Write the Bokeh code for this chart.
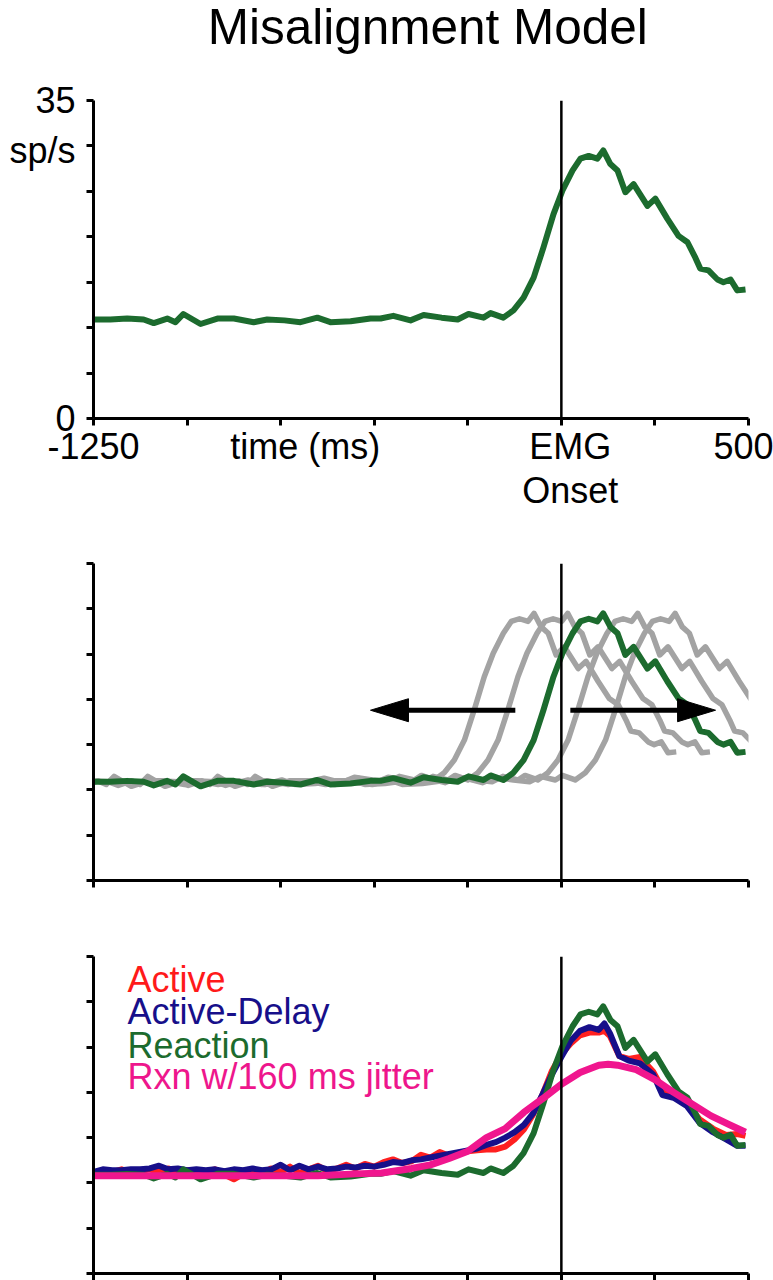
from bokeh.plotting import figure
from bokeh.layouts import column
from bokeh.models import Range1d, FixedTicker, Span, Label, LinearAxis
from bokeh.embed import file_html
from bokeh.resources import INLINE

FONT = "Liberation Sans"

# ---------------- data ----------------
x_ticks = [-1250, -1000, -750, -500, -250, 0, 250, 500]
y_ticks = [0, 5, 10, 15, 20, 25, 30, 35]

title_text = "Misalignment Model"
title_x = -945
# y labels of the top panel (value position -> text)
y_label_pos = [0, 29.5, 35]
y_label_text = ["0", "sp/s", "35"]
# x labels of the top panel, first line and second line
x_label_pos = [-1250, -684, 24, 487]
x_label_text = ["-1250", "time (ms)", "EMG", "500"]
x_label2_pos = [24]
x_label2_text = ["Onset"]

# Reaction (green) trace
reaction_t = [-1250, -1205, -1160, -1116, -1089, -1053, -1031, -1010, -964, -919,
              -875, -822, -786, -740, -697, -652, -617, -563, -510, -483,
              -449, -403, -368, -320, -277, -248, -208, -189, -155, -128,
              -101, -74, -48, -21, 3, 30, 51, 73, 96, 112,
              131, 150, 171, 193, 230, 251, 283, 313, 337, 358,
              371, 393, 417, 433, 452, 470, 492]
reaction_v = [10.9, 10.9, 11.0, 10.9, 10.5, 11.0, 10.6, 11.5, 10.4, 11.0,
              11.0, 10.6, 10.9, 10.8, 10.6, 11.1, 10.6, 10.7, 11.0, 11.0,
              11.3, 10.8, 11.4, 11.1, 10.9, 11.5, 11.1, 11.6, 11.1, 11.9,
              13.3, 15.5, 18.8, 22.5, 25.1, 27.3, 28.6, 28.9, 28.6, 29.5,
              28.0, 27.3, 24.9, 25.8, 23.4, 24.2, 22.0, 20.1, 19.4, 17.7,
              16.5, 16.3, 15.3, 15.0, 15.3, 14.1, 14.2]

# shifted (misaligned) copies in panel 2, ms
misalign_shifts = [-185, -95, 92, 192]

# arrows in panel 2
arrow_y = 18.8
arrow_starts = [-123, 24]
arrow_tips = [-510, 412]

# Active / Active-Delay traces (panel 3)
act_t = [-1250, -1225, -1200, -1175, -1150, -1125, -1100, -1075, -1050, -1025,
         -1000, -975, -950, -925, -900, -875, -850, -825, -800, -775,
         -750, -725, -700, -675, -650, -625, -600, -575, -550, -525,
         -500, -475, -450, -425, -400, -375, -350, -325, -300, -275,
         -250, -225, -200, -175, -150, -125, -100, -75, -50, -25,
         0, 25, 50, 75, 100, 115, 130, 155, 180, 210,
         245, 270, 300, 335, 370, 405, 440, 470, 492]
active_v = [11.0, 11.4, 11.2, 11.5, 11.1, 11.3, 11.5, 11.2, 11.6, 11.0,
            11.4, 11.1, 11.3, 11.5, 10.9, 10.4, 11.0, 11.3, 11.0, 11.6,
            11.2, 11.8, 11.1, 11.5, 11.9, 11.3, 11.6, 12.0, 11.6, 12.1,
            11.8, 12.3, 12.6, 12.2, 12.4, 13.1, 12.8, 13.4, 13.0, 13.3,
            13.5, 13.6, 13.7, 13.7, 14.0, 14.8, 15.9, 17.6, 19.8, 22.4,
            24.2, 25.4, 26.3, 26.6, 26.6, 26.8, 26.2, 24.0, 23.7, 23.9,
            22.3, 20.4, 19.8, 18.8, 17.0, 16.0, 15.3, 15.4, 15.2]
active_delay_v = [11.2, 11.5, 11.4, 11.4, 11.5, 11.5, 11.6, 11.9, 11.5, 11.6,
                  11.4, 11.5, 11.4, 11.5, 11.3, 11.5, 11.4, 11.6, 11.4, 11.5,
                  12.0, 11.4, 11.9, 11.5, 11.8, 11.5, 11.6, 11.8, 11.7, 11.9,
                  11.8, 12.0, 12.3, 12.2, 12.5, 12.6, 12.8, 13.0, 13.2, 13.4,
                  13.6, 13.8, 14.2, 14.5, 15.0, 15.6, 16.4, 17.7, 19.8, 22.0,
                  23.9, 25.7, 26.8, 27.2, 26.9, 27.6, 26.5, 24.0, 23.5, 23.2,
                  22.0, 19.7, 19.4, 18.5, 16.6, 15.6, 14.8, 14.1, 14.1]

# Reaction with 160 ms jitter (pink)
jitter_t = [-1250, -1000, -800, -650, -550, -480, -400, -350, -300, -250,
            -200, -150, -100, -50, 0, 50, 100, 125, 150, 200,
            250, 300, 350, 400, 450, 492]
jitter_v = [10.8, 10.8, 10.8, 10.8, 11.0, 11.1, 11.6, 12.0, 12.7, 13.5,
            15.0, 16.0, 17.8, 19.3, 20.9, 22.2, 23.0, 23.1, 23.0, 22.5,
            21.4, 20.0, 18.7, 17.4, 16.4, 15.6]

legend_names = ["Active", "Active-Delay", "Reaction", "Rxn w/160 ms jitter"]
legend_colors = ["#ff1a1a", "#170f8a", "#1c6b2e", "#ee168c"]
legend_x = -1159
legend_y = [32.5, 28.9, 25.2, 21.7]

GREEN = "#1c6b2e"
GRAY = "#a3a3a3"
RED = "#ff2020"
NAVY = "#170f8a"
PINK = "#f0168e"

FRAME_W = 655
X0, X1 = -1250, 500
Y0, Y1 = 0, 35
TITLE_H = 60


def style_axis(ax):
    ax.axis_line_width = 3
    ax.axis_line_color = "black"
    ax.major_tick_line_width = 3
    ax.major_tick_line_color = "black"
    ax.major_tick_out = 7
    ax.major_tick_in = 0
    ax.minor_tick_line_color = None
    # tick marks only: labels are not drawn
    ax.major_label_text_color = None
    ax.major_label_text_font_size = "1px"
    ax.major_label_standoff = 0


def label_axis(ticks, texts, standoff):
    return LinearAxis(ticker=FixedTicker(ticks=ticks),
                      major_label_overrides=dict(zip(ticks, texts)),
                      axis_line_color=None, major_tick_line_color=None,
                      minor_tick_line_color=None, major_tick_out=0, major_tick_in=0,
                      major_label_standoff=standoff, major_label_text_font=FONT,
                      major_label_text_font_size="36px", major_label_text_color="black")


def make_fig(frame_h, top, bottom):
    p = figure(frame_width=FRAME_W, frame_height=frame_h,
               x_range=Range1d(X0, X1), y_range=Range1d(Y0, Y1),
               output_backend="svg", toolbar_location=None,
               min_border_left=93, min_border_right=25,
               min_border_top=top, min_border_bottom=bottom)
    p.outline_line_color = None
    p.grid.visible = False
    p.background_fill_color = "white"
    p.border_fill_color = "white"
    style_axis(p.xaxis[0])
    style_axis(p.yaxis[0])
    p.xaxis[0].ticker = FixedTicker(ticks=x_ticks)
    p.yaxis[0].ticker = FixedTicker(ticks=y_ticks)
    p.add_layout(Span(location=0, dimension="height", line_color="black", line_width=2.5))
    return p


# ---------------- title strip (same horizontal frame as the panels) ----------------
pt = figure(frame_width=FRAME_W, frame_height=TITLE_H, x_range=Range1d(X0, X1),
            y_range=Range1d(0, TITLE_H), x_axis_type=None, y_axis_type=None,
            output_backend="svg", toolbar_location=None,
            min_border_left=93, min_border_right=25, min_border_top=0, min_border_bottom=0)
pt.outline_line_color = None
pt.grid.visible = False
pt.add_layout(Label(x=title_x, y=34.1, text=title_text, text_font=FONT, text_font_size="49.5px",
                    text_align="left", text_baseline="alphabetic", text_color="black"))

# ---------------- panel 1 ----------------
p1 = make_fig(318, 100 - TITLE_H, 97)
p1.add_layout(label_axis(y_label_pos, y_label_text, 11), "left")
p1.add_layout(label_axis(x_label_pos, x_label_text, 0), "below")
p1.add_layout(label_axis(x_label2_pos, x_label2_text, 0), "below")
p1.line(reaction_t, reaction_v, line_color=GREEN, line_width=6, line_join="round")

# ---------------- panel 2 ----------------
p2 = make_fig(317, 48, 35)
for s in misalign_shifts:
    p2.line([t + s for t in reaction_t], reaction_v, line_color=GRAY, line_width=5.5,
            line_join="round")
p2.line(reaction_t, reaction_v, line_color=GREEN, line_width=6, line_join="round")

# arrows: shaft + head (head size given in pixels, converted to data units)
px_per_ms = FRAME_W / (X1 - X0)
px_per_unit = 317 / (Y1 - Y0)
head_len = 38 / px_per_ms
head_half = 11.5 / px_per_unit
head_xs, head_ys = [], []
for st, tip in zip(arrow_starts, arrow_tips):
    d = 1 if tip > st else -1
    base = tip - d * head_len
    p2.line([st, base + d * 2 / px_per_ms], [arrow_y, arrow_y], line_color="black", line_width=5)
    head_xs.append([tip, base, base])
    head_ys.append([arrow_y, arrow_y + head_half, arrow_y - head_half])
p2.patches(head_xs, head_ys, fill_color="black", line_color="black", line_width=1)

# ---------------- panel 3 ----------------
p3 = make_fig(317, 41, 7)
p3.line(act_t, active_v, line_color=RED, line_width=6, line_join="round")
p3.line(act_t, active_delay_v, line_color=NAVY, line_width=6, line_join="round")
p3.line(reaction_t, reaction_v, line_color=GREEN, line_width=6, line_join="round")
p3.line(jitter_t, jitter_v, line_color=PINK, line_width=7, line_join="round")
for name, col, yy in zip(legend_names, legend_colors, legend_y):
    p3.add_layout(Label(x=legend_x, y=yy, text=name, text_font=FONT, text_font_size="36px",
                        text_align="left", text_baseline="alphabetic", text_color=col))

layout = column(pt, p1, p2, p3, spacing=0)
open("out.html", "w").write(file_html(layout, INLINE))
